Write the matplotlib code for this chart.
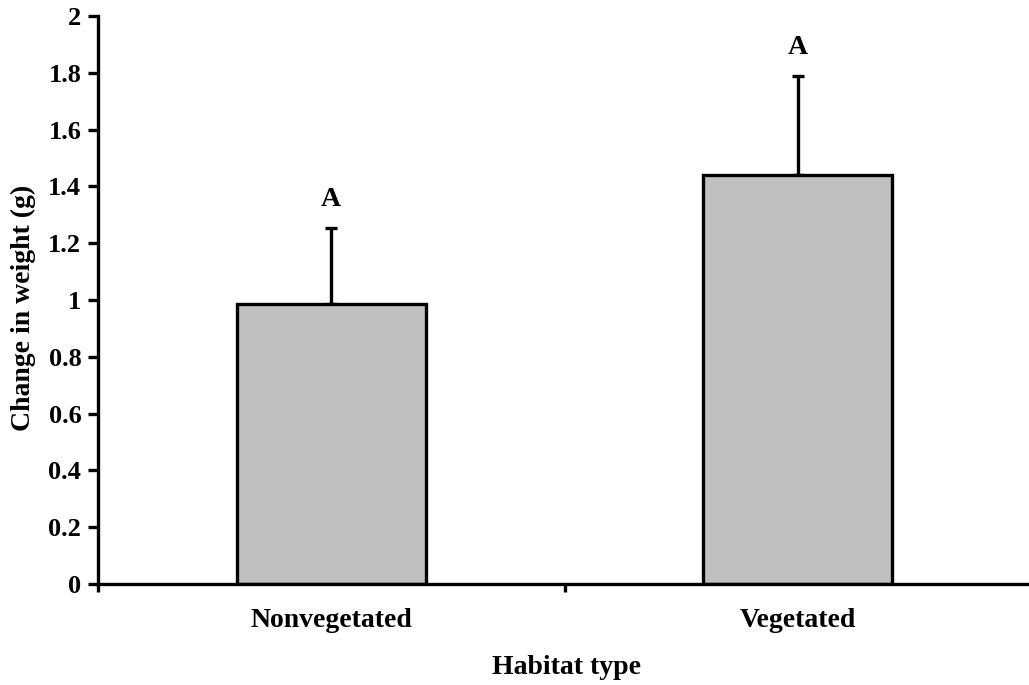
import matplotlib
matplotlib.use("Agg")
import matplotlib.pyplot as plt

categories = ["Nonvegetated", "Vegetated"]
means = [0.985, 1.44]
errors = [0.27, 0.35]
letters = ["A", "A"]
yticks = [0, 0.2, 0.4, 0.6, 0.8, 1, 1.2, 1.4, 1.6, 1.8, 2]
ytick_labels = ["0", "0.2", "0.4", "0.6", "0.8", "1", "1.2", "1.4", "1.6", "1.8", "2"]

plt.rcParams['font.family'] = ['Liberation Serif', 'DejaVu Serif']
plt.rcParams['font.weight'] = 'bold'

W, H = 1029, 685
fig = plt.figure(figsize=(W/100, H/100), dpi=100)
ax = fig.add_axes([98/W, 101/H, (1031-98)/W, 568/H])

x = list(range(len(categories)))
lw = 2.4
ax.bar(x, means, width=0.405, color="#c0c0c0", edgecolor="black", linewidth=lw, zorder=2)
ax.errorbar(x, means, yerr=[[0]*len(errors), errors], fmt='none', ecolor='black',
            elinewidth=lw, capsize=4, capthick=lw, zorder=1)
for xi, m, e, l in zip(x, means, errors, letters):
    ax.text(xi, m + e + 0.055, l, ha='center', va='bottom', fontsize=20, fontweight='bold')

ax.set_xlim(-0.5, 1.5)
ax.set_ylim(0, 2)
ax.set_yticks(yticks)
ax.set_yticklabels(ytick_labels, fontsize=19, fontweight='bold')
ax.set_xticks([-0.5, 0.5, 1.5])
ax.set_xticklabels([])
ax.set_xticks(x, minor=True)
ax.set_xticklabels(categories, minor=True, fontsize=20, fontweight='bold')
ax.tick_params(axis='x', which='minor', length=0, pad=17)
ax.tick_params(axis='x', which='major', direction='out', length=6, width=lw)
ax.tick_params(axis='y', direction='out', length=7, width=lw, pad=5)

for s in ['top', 'right']:
    ax.spines[s].set_visible(False)
for s in ['left', 'bottom']:
    ax.spines[s].set_linewidth(lw)

fig.text(566/W, 1 - 667/H, "Habitat type", ha='center', va='center', fontsize=20, fontweight='bold')
fig.text(23/W, 1 - 308/H, "Change in weight (g)", ha='center', va='center', rotation=90,
         fontsize=20, fontweight='bold')

fig.savefig("out.png", dpi=100)
